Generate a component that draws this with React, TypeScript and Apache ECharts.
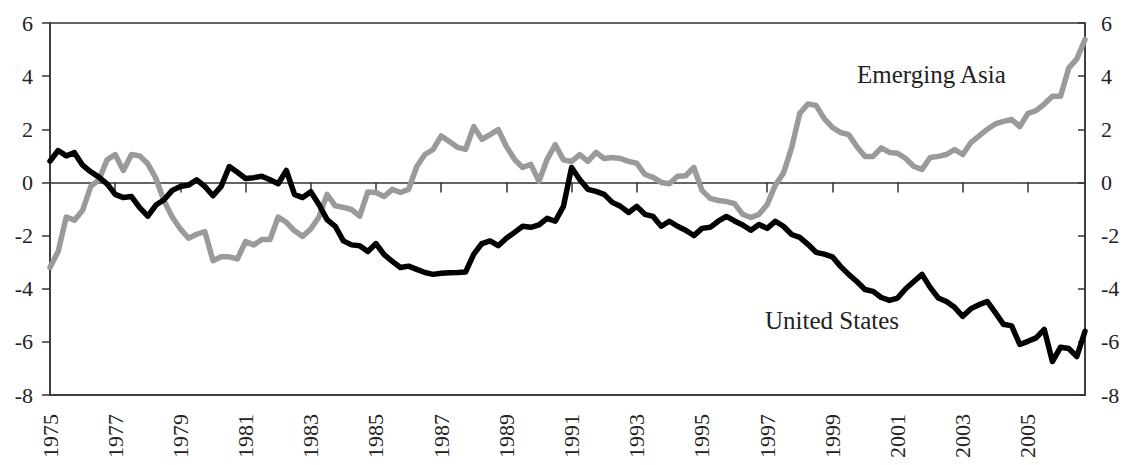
import React, { useEffect, useRef } from "react";
import * as echarts from "echarts";

const FONT = "Liberation Serif";

const START_YEAR = 1975;
const N_QUARTERS = 128;
const quarters: string[] = [];
for (let i = 0; i < N_QUARTERS; i++) {
  quarters.push(`${START_YEAR + Math.floor(i / 4)}Q${(i % 4) + 1}`);
}

const unitedStates = [
  0.8, 1.2, 1.0, 1.12, 0.65, 0.4, 0.2, -0.05,
  -0.45, -0.57, -0.53, -0.95, -1.27, -0.85, -0.65, -0.3,
  -0.15, -0.1, 0.1, -0.15, -0.5, -0.15, 0.6, 0.38,
  0.15, 0.18, 0.23, 0.1, -0.05, 0.45, -0.45, -0.57,
  -0.35, -0.83, -1.4, -1.65, -2.2, -2.35, -2.38, -2.6,
  -2.3, -2.72, -2.97, -3.2, -3.15, -3.27, -3.39, -3.46,
  -3.42, -3.4, -3.39, -3.37, -2.7, -2.3, -2.2, -2.38,
  -2.1, -1.88, -1.65, -1.69, -1.6, -1.35, -1.46, -0.9,
  0.56, 0.11, -0.26, -0.34, -0.45, -0.75, -0.9, -1.13,
  -0.9, -1.2, -1.28, -1.65, -1.46, -1.65, -1.8, -2.0,
  -1.73, -1.69, -1.46, -1.28, -1.45, -1.6, -1.8, -1.58,
  -1.73, -1.46, -1.65, -1.96, -2.07, -2.33, -2.63, -2.7,
  -2.8, -3.16, -3.46, -3.73, -4.03, -4.1, -4.33, -4.44,
  -4.35, -4.0, -3.73, -3.46, -3.95, -4.35, -4.48, -4.7,
  -5.04, -4.75, -4.6, -4.48, -4.9, -5.34, -5.4, -6.1,
  -5.98, -5.85, -5.53, -6.74, -6.2, -6.25, -6.55, -5.6,
];

const emergingAsia = [
  -3.2, -2.6, -1.3, -1.42, -1.05, -0.15, 0.1, 0.85,
  1.05, 0.45, 1.05, 1.0, 0.7, 0.15, -0.7, -1.3,
  -1.75, -2.1, -1.95, -1.85, -2.95, -2.8, -2.8, -2.88,
  -2.22, -2.35, -2.15, -2.15, -1.3, -1.5, -1.82, -2.03,
  -1.75, -1.3, -0.45, -0.88, -0.94, -1.02, -1.27, -0.36,
  -0.38, -0.53, -0.26, -0.38, -0.26, 0.6, 1.05, 1.24,
  1.75, 1.54, 1.32, 1.25, 2.1, 1.62, 1.8, 1.99,
  1.35, 0.87, 0.56, 0.68, 0.04, 0.87, 1.42, 0.85,
  0.79, 1.05, 0.79, 1.13, 0.9, 0.94, 0.9, 0.79,
  0.72, 0.3, 0.19, 0.0, -0.05, 0.23, 0.25, 0.56,
  -0.3, -0.6, -0.68, -0.72, -0.8, -1.2, -1.32, -1.2,
  -0.83, -0.1, 0.35, 1.3, 2.6, 2.95, 2.9, 2.4,
  2.07, 1.88, 1.8, 1.35, 0.98, 0.98, 1.3, 1.13,
  1.1, 0.9, 0.6, 0.49, 0.94, 0.98, 1.05, 1.24,
  1.05, 1.5, 1.75, 2.0, 2.2, 2.3, 2.37, 2.1,
  2.6, 2.7, 2.95, 3.24, 3.24, 4.3, 4.65, 5.38,
];

const Y_MIN = -8;
const Y_MAX = 6;
const Y_STEP = 2;

const AXIS_COLOR = "#333333";
const TEXT_COLOR = "#222222";

export default function App() {
  const ref = useRef<HTMLDivElement>(null);

  useEffect(() => {
    if (!ref.current) return;
    const chart = echarts.init(ref.current, null, { renderer: "svg" });
    const labelStyle = { fontFamily: FONT, fontSize: 22, color: TEXT_COLOR };
    const yAxisBase = {
      type: "value",
      min: Y_MIN,
      max: Y_MAX,
      interval: Y_STEP,
      splitLine: { show: false },
      axisLine: { show: true, lineStyle: { color: AXIS_COLOR, width: 1.5 } },
    };
    chart.setOption({
      animation: false,
      textStyle: { fontFamily: FONT },
      grid: {
        left: 50,
        right: 42,
        top: 23,
        bottom: 70,
        show: true,
        borderColor: AXIS_COLOR,
        borderWidth: 1.5,
        backgroundColor: "transparent",
      },
      xAxis: [
        {
          type: "category",
          data: quarters,
          boundaryGap: false,
          position: "bottom",
          axisLine: {
            show: true,
            onZero: true,
            onZeroAxisIndex: 0,
            lineStyle: { color: AXIS_COLOR, width: 1.5 },
          },
          axisTick: {
            show: true,
            interval: 7,
            length: 10,
            lineStyle: { color: AXIS_COLOR, width: 1.5 },
          },
          axisLabel: { show: false },
          splitLine: { show: false },
        },
        {
          type: "category",
          data: quarters,
          boundaryGap: false,
          position: "bottom",
          axisLine: { show: true, onZero: false, lineStyle: { color: AXIS_COLOR, width: 1.5 } },
          axisTick: { show: false },
          axisLabel: {
            show: true,
            interval: 7,
            rotate: 90,
            margin: 19,
            ...labelStyle,
            formatter: (v: string) => v.slice(0, 4),
          },
          splitLine: { show: false },
        },
      ],
      yAxis: [
        {
          ...yAxisBase,
          position: "left",
          axisTick: { show: true, length: 8, lineStyle: { color: AXIS_COLOR, width: 1.5 } },
          axisLabel: { margin: 17, ...labelStyle },
        },
        {
          ...yAxisBase,
          position: "right",
          axisTick: { show: true, inside: true, length: 7, lineStyle: { color: AXIS_COLOR, width: 1.5 } },
          axisLabel: { margin: 16, ...labelStyle },
        },
      ],
      series: [
        {
          name: "Emerging Asia",
          type: "line",
          data: emergingAsia,
          xAxisIndex: 0,
          yAxisIndex: 0,
          symbol: "none",
          lineStyle: { color: "#9a9a9a", width: 5.5, join: "round", cap: "round" },
          z: 2,
        },
        {
          name: "United States",
          type: "line",
          data: unitedStates,
          xAxisIndex: 0,
          yAxisIndex: 0,
          symbol: "none",
          lineStyle: { color: "#000000", width: 5.5, join: "round", cap: "round" },
          z: 3,
        },
      ],
      graphic: [
        {
          type: "text",
          left: 857,
          top: 62,
          style: {
            text: "Emerging Asia",
            fontFamily: FONT,
            fontSize: 25,
            fill: TEXT_COLOR,
          },
        },
        {
          type: "text",
          left: 765,
          top: 308,
          style: {
            text: "United States",
            fontFamily: FONT,
            fontSize: 25,
            fill: TEXT_COLOR,
          },
        },
      ],
    });
    return () => chart.dispose();
  }, []);

  return (
    <div
      ref={ref}
      style={{ position: "absolute", left: 0, top: 0, width: 1127, height: 465 }}
    />
  );
}
